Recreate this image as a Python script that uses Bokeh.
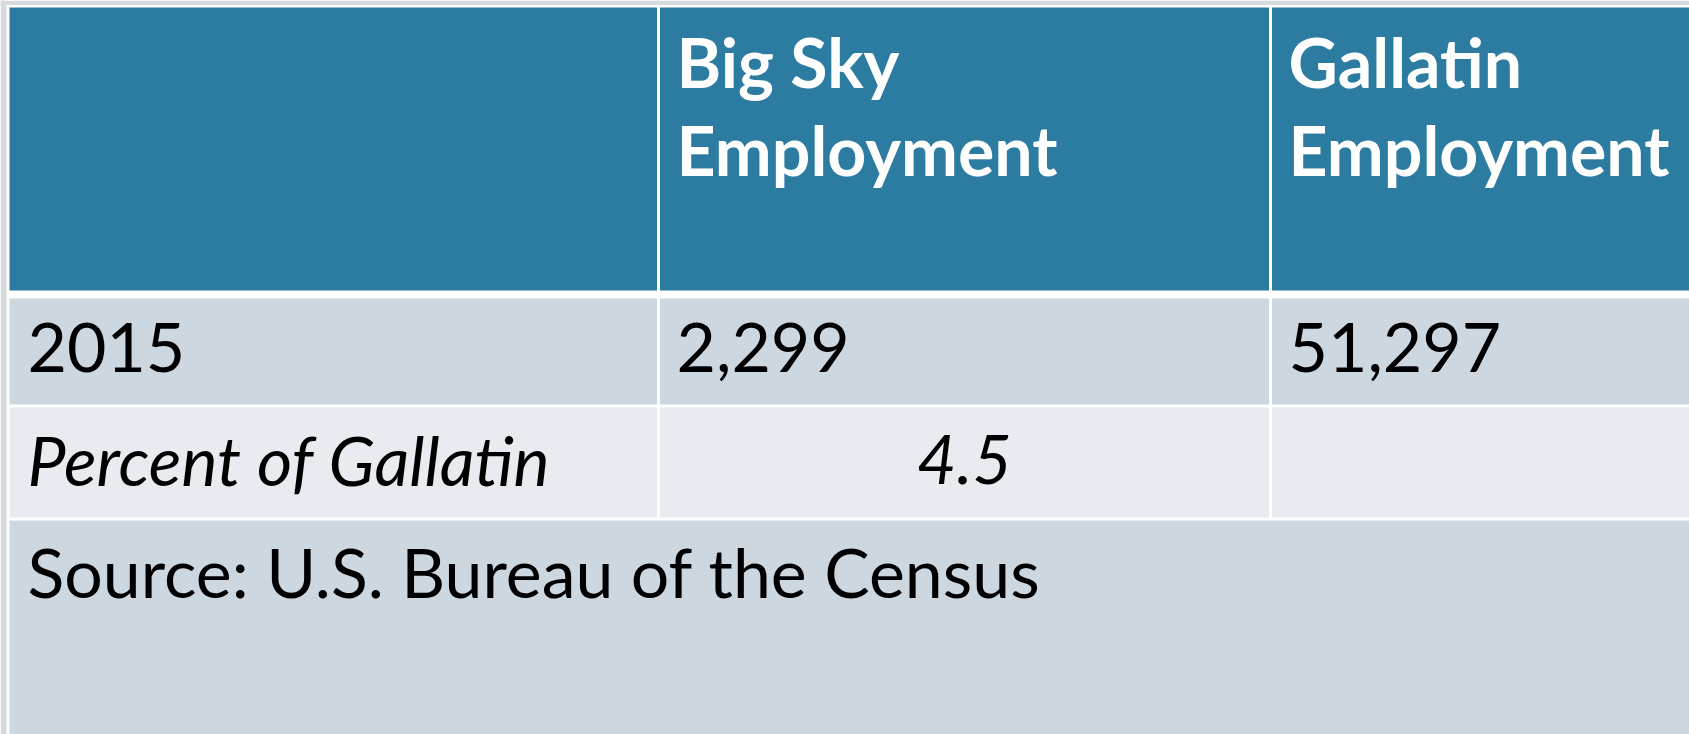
from bokeh.plotting import figure
from bokeh.models import Range1d
from bokeh.core.properties import value
from bokeh.embed import file_html
from bokeh.resources import INLINE

# ---- data ----
header_labels = ["", "Big Sky\nEmployment", "Gallatin\nEmployment"]
row_year = ["2015", "2,299", "51,297"]
row_percent = ["Percent of Gallatin", "4.5", ""]
source_note = "Source: U.S. Bureau of the Census"

# ---- layout (page pixels) ----
W, H = 1689, 734
col_edges = [9, 658, 1270, 1700]
head_top, head_bot = 7, 290
r1_top, r1_bot = 298, 404
r2_top, r2_bot = 407, 517
ft_top, ft_bot = 520, 740

BLUE = "#2C7BA0"
ROW_DARK = "#CDD7E0"
ROW_LIGHT = "#E8EBF0"
BG = "#D6DADF"
FONT = "Lato"
FS = "68px"
DY = -26  # baseline correction for rendered text

p = figure(width=W, height=H, output_backend="svg", toolbar_location=None,
           x_range=Range1d(0, W), y_range=Range1d(H, 0),
           min_border=0, background_fill_color="white", border_fill_color="white",
           outline_line_color=None)
p.axis.visible = False
p.grid.visible = False

# textured page background strips outside the table
p.quad(left=[0, 0], right=[6, W], top=[0, 0], bottom=[H, 4.5], fill_color=BG, line_color=None)

lefts, rights, tops, bots, colors = [], [], [], [], []
gap = 3
for i in range(3):
    l = col_edges[i] + (0 if i == 0 else gap / 2)
    r = col_edges[i + 1] - (gap / 2 if i < 2 else 0)
    for (t, b, c) in [(head_top, head_bot, BLUE), (r1_top, r1_bot, ROW_DARK), (r2_top, r2_bot, ROW_LIGHT)]:
        lefts.append(l); rights.append(r); tops.append(t); bots.append(b); colors.append(c)
lefts.append(col_edges[0]); rights.append(col_edges[-1]); tops.append(ft_top); bots.append(ft_bot); colors.append(ROW_DARK)
p.quad(left=lefts, right=rights, top=tops, bottom=bots, fill_color=colors, line_color=None)

pad = 18
# header text
hx, hy, ht = [], [], []
for i, lab in enumerate(header_labels):
    for j, line in enumerate(lab.split("\n")):
        if line:
            hx.append(col_edges[i] + pad); hy.append(87 + DY + j * 88); ht.append(line)
p.text(x=hx, y=hy, text=ht, text_color="white", text_font=value(FONT),
       text_font_style="bold", text_font_size=FS, text_baseline="alphabetic")

# year row
p.text(x=[col_edges[i] + pad for i in range(3)], y=[373 + DY] * 3, text=row_year,
       text_color="black", text_font=value(FONT), text_font_size=FS, text_baseline="alphabetic")

# percent row
p.text(x=[col_edges[0] + pad], y=[485 + DY], text=[row_percent[0]], text_color="black",
       text_font=value(FONT), text_font_style="italic", text_font_size=FS, text_baseline="alphabetic")
p.text(x=[(col_edges[1] + col_edges[2]) / 2], y=[485 + DY], text=[row_percent[1]], text_color="black",
       text_font=value(FONT), text_font_style="italic", text_font_size=FS,
       text_baseline="alphabetic", text_align="center")

# source
p.text(x=[col_edges[0] + pad], y=[597 + DY], text=[source_note], text_color="black",
       text_font=value(FONT), text_font_size=FS, text_baseline="alphabetic")

open("out.html", "w").write(file_html(p, INLINE))
